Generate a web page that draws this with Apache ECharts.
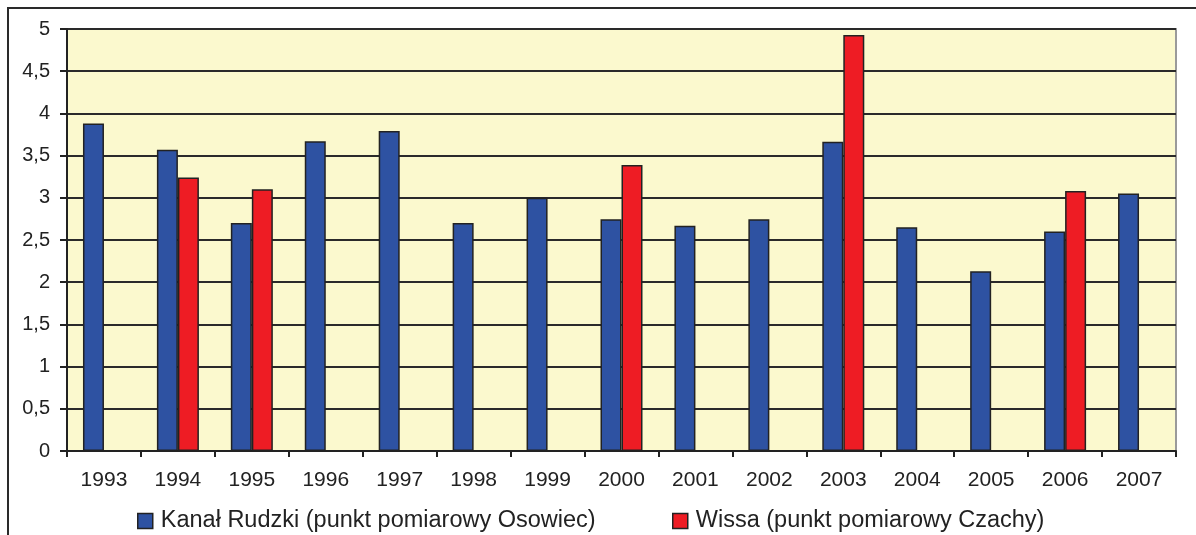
<!DOCTYPE html>
<html>
<head>
<meta charset="utf-8">
<script src="https://cdn.jsdelivr.net/npm/echarts@6/dist/echarts.min.js"></script>
<style>html,body{margin:0;padding:0;background:#fff}#c{width:1196px;height:535px}</style>
</head>
<body>
<div id="c"></div>
<script>
const years = ['1993','1994','1995','1996','1997','1998','1999','2000','2001','2002','2003','2004','2005','2006','2007'];
const kanalRudzki = [3.88, 3.57, 2.70, 3.67, 3.79, 2.70, 3.00, 2.745, 2.67, 2.745, 3.665, 2.65, 2.13, 2.60, 3.05];
const wissa = [null, 3.24, 3.10, null, null, null, null, 3.39, null, null, 4.93, null, null, 3.08, null];
const seriesNames = ['Kanał Rudzki (punkt pomiarowy Osowiec)', 'Wissa (punkt pomiarowy Czachy)'];
const yTickLabels = ['0','0,5','1','1,5','2','2,5','3','3,5','4','4,5','5'];

const chart = echarts.init(document.getElementById('c'), null, {renderer: 'canvas'});
const font = 'Liberation Sans, Arial, sans-serif';
const legendCommon = {
  top: 504, itemWidth: 15, itemHeight: 15, icon: 'rect',
  textStyle: {fontFamily: font, fontSize: 23.5, color: '#222', padding: [0, 0, 0, 3]},
  itemStyle: {borderColor: '#222', borderWidth: 1.5}
};
chart.setOption({
  animation: false,
  backgroundColor: '#fff',
  graphic: [{
    type: 'rect', shape: {x: 8, y: 8, width: 1300, height: 700},
    style: {fill: 'none', stroke: '#2a2a2a', lineWidth: 2}, z: 0
  }],
  grid: {
    left: 67, right: 20, top: 29, bottom: 84,
    show: true, backgroundColor: '#FBF9CE', borderColor: '#9a9a9a', borderWidth: 2
  },
  legend: [
    Object.assign({left: 132, data: [seriesNames[0]]}, legendCommon),
    Object.assign({left: 667, data: [seriesNames[1]]}, legendCommon)
  ],
  xAxis: {
    type: 'category', data: years,
    axisLine: {lineStyle: {color: '#222', width: 2}},
    axisTick: {show: true, inside: false, length: 6, lineStyle: {color: '#222', width: 2}},
    axisLabel: {fontFamily: font, fontSize: 21, color: '#222', margin: 19}
  },
  yAxis: {
    type: 'value', min: 0, max: 5, interval: 0.5,
    axisLine: {show: true, lineStyle: {color: '#222', width: 2}},
    axisTick: {show: true, length: 7, lineStyle: {color: '#222', width: 2}},
    axisLabel: {fontFamily: font, fontSize: 20, color: '#222', margin: 17,
      formatter: v => yTickLabels[Math.round(v * 2)]},
    splitLine: {lineStyle: {color: '#2a2a2a', width: 2}}
  },
  series: [{
    name: seriesNames[0], type: 'bar', data: kanalRudzki,
    barWidth: 21, barGap: '0%',
    itemStyle: {color: '#2E52A2', borderColor: '#222', borderWidth: 1.5}
  }, {
    name: seriesNames[1], type: 'bar', data: wissa,
    barWidth: 21, barGap: '0%',
    itemStyle: {color: '#EE1C24', borderColor: '#222', borderWidth: 1.5}
  }]
});
</script>
</body>
</html>
